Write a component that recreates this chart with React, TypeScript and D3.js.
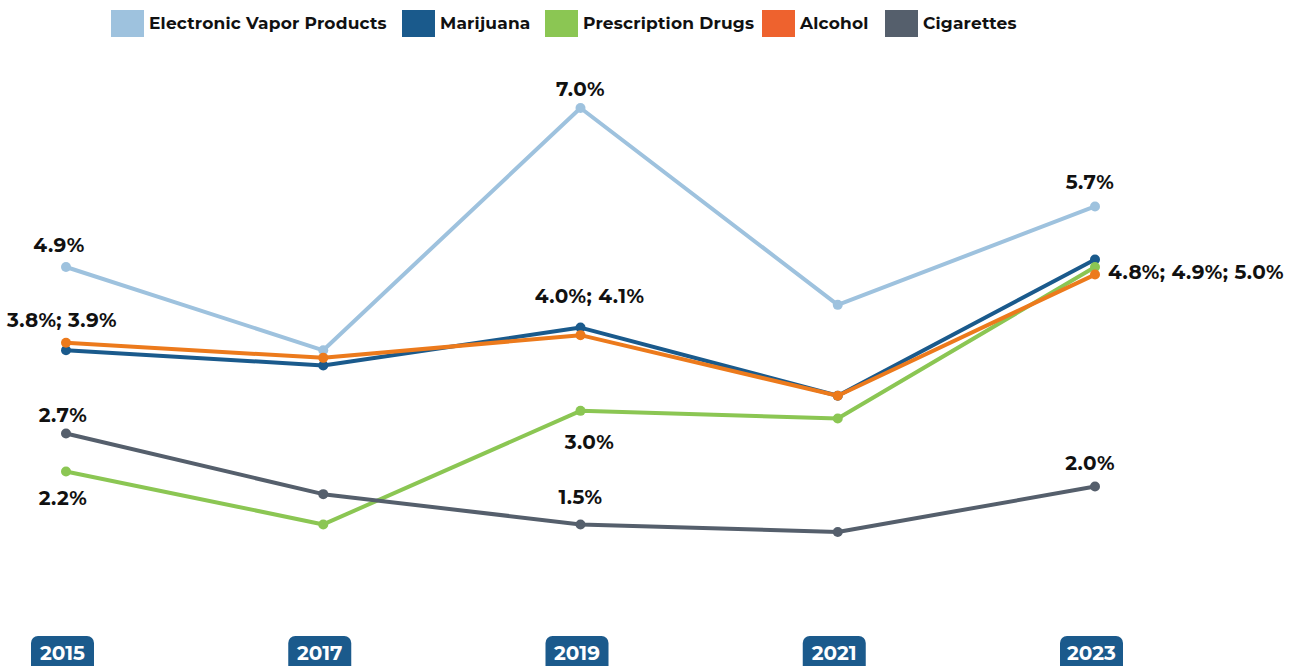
import React from "react";
import * as d3 from "d3";

const years = ["2015", "2017", "2019", "2021", "2023"];
const seriesNames = ["Electronic Vapor Products", "Marijuana", "Prescription Drugs", "Alcohol", "Cigarettes"];
const evp = [4.9, 3.8, 7.0, 4.4, 5.7];
const marijuana = [3.8, 3.6, 4.1, 3.2, 5.0];
const prescription = [2.2, 1.5, 3.0, 2.9, 4.9];
const alcohol = [3.9, 3.7, 4.0, 3.2, 4.8];
const cigarettes = [2.7, 1.9, 1.5, 1.4, 2.0];
const lineColors = ["#9EC2DE", "#1A5A8C", "#8BC653", "#EC7A1C", "#555F6C"];
const legendColors = ["#9EC2DE", "#1A5A8C", "#8BC653", "#EE622E", "#555F6C"];

const labelYears = [0, 0, 0, 0, 2, 2, 2, 2, 4, 4, 4];
const labelTexts = ["4.9%", "3.8%; 3.9%", "2.7%", "2.2%", "7.0%", "4.0%; 4.1%", "3.0%", "1.5%", "5.7%", "4.8%; 4.9%; 5.0%", "2.0%"];
const labelValues = [4.9, 3.9, 2.7, 2.2, 7.0, 4.1, 3.0, 1.5, 5.7, 4.9, 2.0];

const W = 1298;
const H = 666;

export default function App() {
  const all = [evp, marijuana, prescription, alcohol, cigarettes];
  const x = d3.scalePoint<string>().domain(years).range([66, 1095]);
  const y = d3.scaleLinear().domain([0, 7]).range([638, 108]);
  const line = d3.line<number>().x((_, i) => x(years[i])!).y((d) => y(d));
  const font = "Montserrat, 'Open Sans', 'DejaVu Sans', sans-serif";

  const legendX = [111, 402, 545, 762, 885];
  const labelOffsets: [number, number, string][] = [
    [-7, -15, "middle"],
    [-4, -16, "middle"],
    [-3, -12, "middle"],
    [-3, 34, "middle"],
    [0, -12, "middle"],
    [9, -25, "middle"],
    [9, 38, "middle"],
    [0, -20, "middle"],
    [-5, -17, "middle"],
    [13, 12, "start"],
    [-5, -17, "middle"],
  ];

  return (
    <svg width={W} height={H} style={{ position: "absolute", left: 0, top: 0, background: "#fff" }}>
      {seriesNames.map((n, i) => (
        <g key={n}>
          <rect x={legendX[i]} y={10} width={33} height={27} fill={legendColors[i]} />
          <text x={legendX[i] + 38} y={29} fontFamily={font} fontWeight={700} fontSize={17} letterSpacing={0.2} fill="#111">
            {n}
          </text>
        </g>
      ))}
      {all.map((s, i) => (
        <g key={i}>
          <path d={line(s)!} fill="none" stroke={lineColors[i]} strokeWidth={4} strokeLinejoin="round" />
          {s.map((v, j) => (
            <circle key={j} cx={x(years[j])} cy={y(v)} r={5} fill={lineColors[i]} />
          ))}
        </g>
      ))}
      {labelTexts.map((t, k) => {
        const [dx, dy, anchor] = labelOffsets[k];
        return (
          <text
            key={k}
            x={x(years[labelYears[k]])! + dx}
            y={y(labelValues[k]) + dy}
            textAnchor={anchor as any}
            fontFamily={font}
            fontWeight={700}
            fontSize={20}
            letterSpacing={0.4}
            fill="#111"
          >
            {t}
          </text>
        );
      })}
      {years.map((yr) => (
        <g key={yr}>
          <rect x={x(yr)! - 35} y={636} width={63} height={40} rx={7} fill="#1B5A8C" />
          <text x={x(yr)! - 3.5} y={660} textAnchor="middle" fontFamily={font} fontWeight={700} fontSize={20} fill="#fff">
            {yr}
          </text>
        </g>
      ))}
    </svg>
  );
}
